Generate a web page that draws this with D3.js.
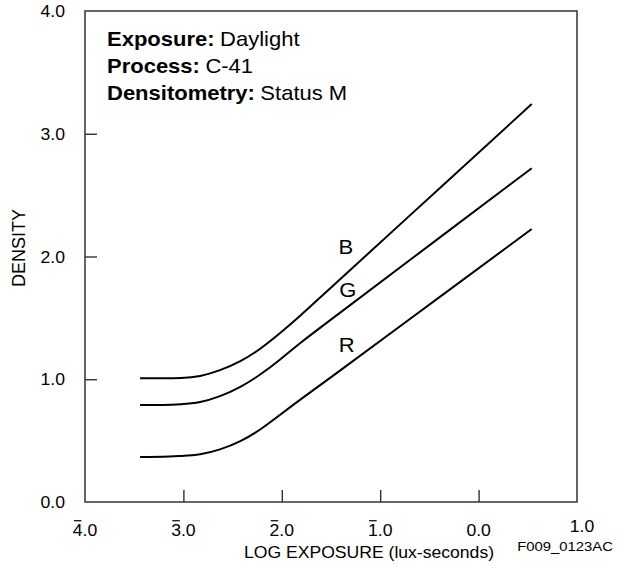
<!DOCTYPE html>
<html>
<head>
<meta charset="utf-8">
<script src="https://cdn.jsdelivr.net/npm/d3@7"></script>
<style>
  body { margin: 0; background: #fff; }
  text { font-family: "Liberation Sans", Arial, sans-serif; fill: #000; }
</style>
</head>
<body>
<div id="chart"></div>
<script>
// log exposure values where the curves were read
const logE = [-3.44, -3.2, -3.03, -2.83, -2.63, -2.42, -2.22, -2.02, -1.82, -1.51, -0.8, 0.54]
const densB = [1.008, 1.008, 1.008, 1.021, 1.07, 1.143, 1.244, 1.374, 1.51, 1.74, 2.26, 3.242]
const densG = [0.79, 0.79, 0.796, 0.809, 0.858, 0.934, 1.035, 1.157, 1.293, 1.48, 1.91, 2.719]
const densR = [0.367, 0.367, 0.375, 0.383, 0.424, 0.491, 0.586, 0.709, 0.831, 1.01, 1.43, 2.224]

const xTicks = [-4, -3, -2, -1, 0, 1]
const yTicks = [0, 1, 2, 3, 4]
const info = [
  ['Exposure:', 'Daylight'],
  ['Process:', 'C-41'],
  ['Densitometry:', 'Status M']
]
const series = [
  { name: 'B', values: densB, label: [-1.35, 2.077] },
  { name: 'G', values: densG, label: [-1.33, 1.727] },
  { name: 'R', values: densR, label: [-1.34, 1.279] }
]

const width = 624
const height = 573
const margin = { top: 11, right: 47, bottom: 71, left: 85 }
const stretch = 'scale(1.1,1)'

const svg = d3.select('#chart').append('svg')
  .attr('width', width)
  .attr('height', height)

const x = d3.scaleLinear().domain([-4, 1]).range([margin.left, width - margin.right])
const y = d3.scaleLinear().domain([0, 4]).range([height - margin.bottom, margin.top])

const at = (px, py) => 'translate(' + px + ',' + py + ') ' + stretch

// inward ticks
svg.append('g')
  .attr('transform', 'translate(0,' + y(0) + ')')
  .call(d3.axisBottom(x).tickValues([-3, -2, -1, 0]).tickSize(-12).tickFormat(''))
  .call(g => g.select('.domain').remove())
  .selectAll('line').attr('stroke', '#222').attr('stroke-width', 1.3)

svg.append('g')
  .attr('transform', 'translate(' + x(-4) + ',0)')
  .call(d3.axisLeft(y).tickValues([1, 2, 3]).tickSize(-12).tickFormat(''))
  .call(g => g.select('.domain').remove())
  .selectAll('line').attr('stroke', '#222').attr('stroke-width', 1.3)

// frame
svg.append('rect')
  .attr('x', x(-4))
  .attr('y', y(4))
  .attr('width', x(1) - x(-4))
  .attr('height', y(0) - y(4))
  .attr('fill', 'none')
  .attr('stroke', '#333')
  .attr('stroke-width', 1.5)

// y tick labels
svg.append('g').selectAll('text')
  .data(yTicks)
  .join('text')
  .attr('transform', d => at(65, y(d) + 6))
  .attr('text-anchor', 'end')
  .attr('font-size', 16)
  .text(d => d.toFixed(1))

// x tick labels, negative characteristics get a bar over the digit
const xl = svg.append('g').selectAll('g')
  .data(xTicks)
  .join('g')
  .attr('transform', d => d === 1 ? at(x(d) + 5, 532) : at(x(d), 536))

xl.append('text')
  .attr('text-anchor', 'middle')
  .attr('font-size', 16)
  .text(d => Math.abs(d).toFixed(1))

xl.each(function (d) {
  if (d >= 0) return
  const box = d3.select(this).select('text').node().getExtentOfChar(0)
  d3.select(this).append('line')
    .attr('x1', box.x + 1)
    .attr('x2', box.x + box.width - 1)
    .attr('y1', box.y - 1)
    .attr('y2', box.y - 1)
    .attr('stroke', '#000')
    .attr('stroke-width', 1.2)
})

svg.append('text')
  .attr('transform', at(369, 558))
  .attr('text-anchor', 'middle')
  .attr('font-size', 16)
  .text('LOG EXPOSURE (lux-seconds)')

svg.append('text')
  .attr('transform', at(565, 551))
  .attr('text-anchor', 'middle')
  .attr('font-size', 13.5)
  .text('F009_0123AC')

svg.append('text')
  .attr('transform', 'translate(25,248) rotate(-90)')
  .attr('text-anchor', 'middle')
  .attr('font-size', 18)
  .text('DENSITY')

// info block
const infoG = svg.append('g')
info.forEach((row, i) => {
  const t = infoG.append('text')
    .attr('transform', at(107, 46 + i * 27))
    .attr('font-size', 20)
  t.append('tspan').attr('font-weight', 'bold').text(row[0])
  t.append('tspan').attr('dx', 5).text(row[1])
})

// curves
const line = d3.line()
  .x((d, i) => x(logE[i]))
  .y(d => y(d))
  .curve(d3.curveBasis)

svg.append('g').selectAll('path')
  .data(series)
  .join('path')
  .attr('d', d => line(d.values))
  .attr('fill', 'none')
  .attr('stroke', '#000')
  .attr('stroke-width', 2)

svg.append('g').selectAll('text')
  .data(series)
  .join('text')
  .attr('transform', d => at(x(d.label[0]), y(d.label[1]) + 7))
  .attr('text-anchor', 'middle')
  .attr('font-size', 20)
  .text(d => d.name)
</script>
</body>
</html>
